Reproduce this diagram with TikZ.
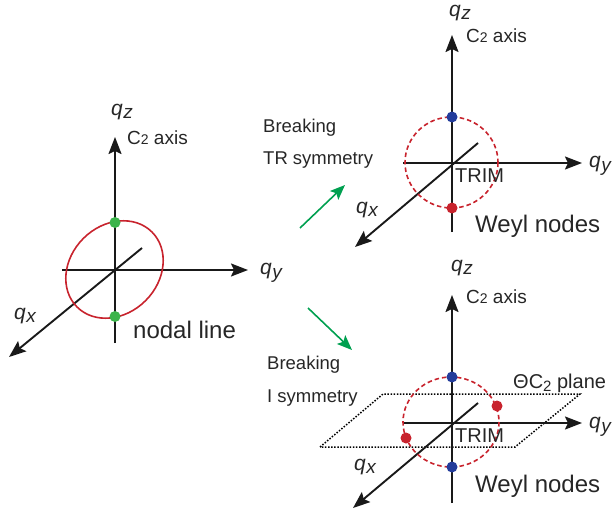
\documentclass[tikz,border=0pt]{standalone}
\usepackage{fontspec}
\setmainfont{Liberation Sans}
\usetikzlibrary{arrows.meta}
\definecolor{lred}{RGB}{200,35,45}
\definecolor{lgreen}{RGB}{60,180,75}
\definecolor{lblue}{RGB}{35,60,155}
\definecolor{agreen}{RGB}{0,160,80}
\newcommand{\qlab}[1]{{\fontsize{21}{21}\selectfont\itshape q\kern0.5pt\raisebox{-3.5pt}{\fontsize{19}{19}\selectfont #1}}}
\newcommand{\ctwo}{C{\fontsize{14}{14}\selectfont 2}}
\begin{document}
\begin{tikzpicture}[x=1pt,y=-1pt,
  axis/.style={line width=1.9pt,draw=black!90},
  axisarr/.style={axis,-{Stealth[length=17pt,width=13pt,inset=3pt]}},
  garr/.style={line width=1.6pt,draw=agreen,-{Stealth[length=15pt,width=12pt,inset=3pt,fill=agreen]}},
  dot/.style={circle,inner sep=0pt,minimum size=11pt},
  lab/.style={inner sep=0pt,text=black!85},
  big/.style={lab,font=\fontsize{24}{24}\selectfont},
  mid/.style={lab,font=\fontsize{19}{19}\selectfont},
  trim/.style={lab,font=\fontsize{20}{20}\selectfont},
  brk/.style={lab,font=\fontsize{18.5}{18.5}\selectfont},
  ring/.style={line width=1.6pt,draw=lred,dash pattern=on 4.5pt off 3pt}]
\useasboundingbox (0,0) rectangle (615,516);

% ---------- left: nodal line ----------
\coordinate (Lo) at (115,270);
\coordinate (Lzb) at (115,343); \coordinate (Lzt) at (115,137);
\coordinate (Lyb) at (62,270);  \coordinate (Lyt) at (248,270);
\coordinate (Lxb) at (142,248); \coordinate (Lxt) at (9,357);
\draw[axisarr] (Lzb) -- (Lzt);
\draw[axisarr] (Lyb) -- (Lyt);
\draw[axisarr] (Lxb) -- (Lxt);
\draw[lred,line width=1.6pt,rotate around={45:(114.5,269.5)}] (114.5,269.5) ellipse [x radius=53, y radius=44];
\node[dot,fill=lgreen] (Lg1) at (115,222.5) {};
\node[dot,fill=lgreen] (Lg2) at (115,316.5) {};
\node[lab] (Lqz) at (122,112) {\qlab{z}};
\node[mid,anchor=base west] (Lc2) at (127,144) {\ctwo{} axis};
\node[lab] (Lqy) at (271,273) {\qlab{y}};
\node[lab] (Lqx) at (25,316) {\qlab{x}};
\node[big,anchor=base west] (Lnl) at (133,338) {nodal line};

% ---------- arrows ----------
\node[brk,anchor=base west] (B1) at (263,132) {Breaking};
\node[brk,anchor=base west] (B2) at (263,164) {TR symmetry};
\coordinate (G1s) at (300,228); \coordinate (G1e) at (345,185);
\draw[garr] (G1s) -- (G1e);
\node[brk,anchor=base west] (B3) at (267,369) {Breaking};
\node[brk,anchor=base west] (B4) at (267,402) {I symmetry};
\coordinate (G2s) at (308,308); \coordinate (G2e) at (352,350);
\draw[garr] (G2s) -- (G2e);

% ---------- top right ----------
\coordinate (To) at (452,163);
\coordinate (Tzb) at (452,232); \coordinate (Tzt) at (452,35);
\coordinate (Tyb) at (403,163); \coordinate (Tyt) at (582,163);
\coordinate (Txb) at (478,143); \coordinate (Txt) at (355,247);
\draw[axisarr] (Tzb) -- (Tzt);
\draw[axisarr] (Tyb) -- (Tyt);
\draw[axisarr] (Txb) -- (Txt);
\draw[ring] (451.5,162.5) ellipse [x radius=46.5, y radius=45.5];
\node[dot,fill=lblue] (Tb) at (452,117) {};
\node[dot,fill=lred] (Tr) at (452,208) {};
\node[lab] (Tqz) at (460,13) {\qlab{z}};
\node[mid,anchor=base west] (Tc2) at (466,43) {\ctwo{} axis};
\node[lab] (Tqy) at (600,166) {\qlab{y}};
\node[lab] (Tqx) at (367,210) {\qlab{x}};
\node[trim,anchor=base west] (Ttr) at (455,182) {TRIM};
\node[big,anchor=base west] (Twn) at (475,232) {Weyl nodes};

% ---------- bottom right ----------
\coordinate (P1) at (320,447); \coordinate (P2) at (383,394);
\coordinate (P3) at (580,394); \coordinate (P4) at (515,447);
\draw[line width=1.5pt,dash pattern=on 1.5pt off 1.6pt] (P1) -- (P2) -- (P3) -- (P4) -- cycle;
\coordinate (Bo) at (452,423);
\coordinate (Bzb) at (452,503); \coordinate (Bzt) at (452,295);
\coordinate (Byb) at (403,423); \coordinate (Byt) at (582,423);
\coordinate (Bxb) at (478,403); \coordinate (Bxt) at (353,508);
\draw[axisarr] (Bzb) -- (Bzt);
\draw[axisarr] (Byb) -- (Byt);
\draw[axisarr] (Bxb) -- (Bxt);
\draw[ring] (451,422) ellipse [x radius=48, y radius=45];
\node[dot,fill=lblue] (Bb1) at (452,377) {};
\node[dot,fill=lblue] (Bb2) at (452,467) {};
\node[dot,fill=lred] (Br1) at (497,406) {};
\node[dot,fill=lred] (Br2) at (406,438) {};
\node[lab] (Bqz) at (462,268) {\qlab{z}};
\node[mid,anchor=base west] (Bc2) at (466,303) {\ctwo{} axis};
\node[trim,anchor=base west] (Bpl) at (513,388) {\char"0398 C\raisebox{-3pt}{\fontsize{15}{15}\selectfont 2} plane};
\node[lab] (Bqy) at (600,427) {\qlab{y}};
\node[lab] (Bqx) at (365,467) {\qlab{x}};
\node[trim,anchor=base west] (Btr) at (455,442) {TRIM};
\node[big,anchor=base west] (Bwn) at (475,492) {Weyl nodes};
\end{tikzpicture}
\end{document}
